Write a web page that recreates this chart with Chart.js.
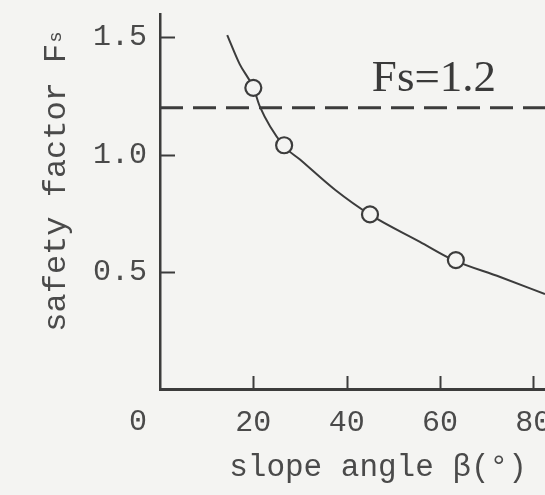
<!DOCTYPE html>
<html>
<head>
<meta charset="utf-8">
<script src="https://cdn.jsdelivr.net/npm/chart.js@4/dist/chart.umd.min.js"></script>
<style>
  html, body { margin: 0; padding: 0; background: #f4f4f2; }
  #wrap { width: 545px; height: 495px; }
</style>
</head>
<body>
<div id="wrap"><canvas id="c" width="545" height="495"></canvas></div>
<script>
// Safety factor against slope angle
const curveAngle = [14.4, 17.1, 20, 21.4, 26.4, 30, 37.5, 45, 55.7, 62.8, 72.9, 82.5];
const curveFs    = [1.51, 1.385, 1.286, 1.205, 1.04, 0.979, 0.85, 0.744, 0.628, 0.551, 0.478, 0.405];

const pointAngle = [20, 26.6, 45, 63.4];
const pointFs    = [1.285, 1.04, 0.745, 0.55];

const fsLimit = 1.2;
const xTicks = [0, 20, 40, 60, 80];
const yTicks = [0.5, 1.0, 1.5];

const INK = '#3c3c3c';
const TEXT = '#4a4a4a';
const MONO = '"Liberation Mono", "DejaVu Sans Mono", monospace';

const toXY = (xs, ys) => xs.map((x, i) => ({ x: x, y: ys[i] }));

// Inward tick marks, the corner origin label, the axis title with subscript and the limit label
const decorations = {
  id: 'decorations',
  afterDraw(chart) {
    const ctx = chart.ctx;
    const xs = chart.scales.x, ys = chart.scales.y;
    const area = chart.chartArea;
    ctx.save();
    ctx.strokeStyle = INK;
    ctx.lineWidth = 2;
    xTicks.filter(v => v > 0).forEach(v => {
      const px = Math.round(xs.getPixelForValue(v)) + 0.5;
      ctx.beginPath(); ctx.moveTo(px, area.bottom); ctx.lineTo(px, area.bottom - 13); ctx.stroke();
    });
    yTicks.forEach(v => {
      const py = Math.round(ys.getPixelForValue(v)) + 0.5;
      ctx.beginPath(); ctx.moveTo(area.left, py); ctx.lineTo(area.left + 15, py); ctx.stroke();
    });

    ctx.fillStyle = TEXT;
    // origin label
    ctx.font = '30px ' + MONO;
    ctx.textAlign = 'center';
    ctx.textBaseline = 'alphabetic';
    ctx.fillText('0', xs.getPixelForValue(0) - 22, 430);

    // x axis title
    ctx.font = '31px ' + MONO;
    ctx.fillText('slope angle \u03B2(\u00B0)', 378, 476);

    // y axis title, read bottom to top, with subscript s
    ctx.save();
    ctx.translate(55, 182);
    ctx.rotate(-Math.PI / 2);
    const main = 'safety factor F';
    ctx.font = '32px ' + MONO;
    const w1 = ctx.measureText(main).width;
    ctx.font = '19px ' + MONO;
    const w2 = ctx.measureText('s').width;
    const start = -(w1 + w2) / 2;
    ctx.textAlign = 'left';
    ctx.textBaseline = 'alphabetic';
    ctx.font = '32px ' + MONO;
    ctx.fillText(main, start, 10);
    ctx.font = '19px ' + MONO;
    ctx.fillText('s', start + w1 + 1, 6);
    ctx.restore();

    // limit line label
    ctx.font = '45px "Liberation Serif", "DejaVu Serif", serif';
    ctx.textAlign = 'left';
    ctx.textBaseline = 'alphabetic';
    ctx.fillStyle = '#3a3a3a';
    ctx.fillText('Fs=' + fsLimit.toFixed(1), xs.getPixelForValue(45.4), ys.getPixelForValue(fsLimit) - 17);
    ctx.restore();
  }
};

const bg = {
  id: 'bg',
  beforeDraw(chart) {
    const ctx = chart.ctx;
    ctx.save();
    ctx.fillStyle = '#f4f4f2';
    ctx.fillRect(0, 0, chart.width, chart.height);
    ctx.restore();
  }
};

new Chart(document.getElementById('c'), {
  type: 'line',
  data: {
    datasets: [
      {
        label: 'limit',
        data: [{ x: 0, y: fsLimit }, { x: 82.5, y: fsLimit }],
        borderColor: INK,
        borderWidth: 3,
        borderDash: [23, 10],
        pointRadius: 0,
        order: 3
      },
      {
        label: 'curve',
        data: toXY(curveAngle, curveFs),
        borderColor: INK,
        borderWidth: 2,
        cubicInterpolationMode: 'monotone',
        pointRadius: 0,
        order: 2
      },
      {
        label: 'computed',
        data: toXY(pointAngle, pointFs),
        showLine: false,
        pointRadius: 8,
        pointBorderWidth: 2.2,
        pointBorderColor: INK,
        pointBackgroundColor: '#f4f4f2',
        order: 1
      }
    ]
  },
  options: {
    responsive: false,
    animation: false,
    events: [],
    layout: { autoPadding: false, padding: { top: 14, right: 0, left: 0, bottom: 0 } },
    plugins: { legend: { display: false }, tooltip: { enabled: false } },
    scales: {
      x: {
        type: 'linear',
        min: 0,
        max: 82.5,
        grid: { display: false, drawTicks: false },
        border: { display: true, color: INK, width: 3 },
        ticks: {
          stepSize: 20,
          includeBounds: false,
          padding: 16,
          color: TEXT,
          font: { family: MONO, size: 30 },
          maxRotation: 0,
          autoSkip: false,
          callback: v => (xTicks.includes(v) && v > 0 ? String(v) : '')
        },
        afterFit: s => { s.height = 106; s.paddingLeft = 0; s.paddingRight = 0; }
      },
      y: {
        type: 'linear',
        min: 0,
        max: 1.6,
        grid: { display: false, drawTicks: false },
        border: { display: true, color: INK, width: 2.5 },
        ticks: {
          stepSize: 0.5,
          includeBounds: false,
          padding: 13,
          color: TEXT,
          font: { family: MONO, size: 30 },
          autoSkip: false,
          callback: v => (yTicks.some(t => Math.abs(t - v) < 1e-9) ? v.toFixed(1) : '')
        },
        afterFit: s => { s.width = 160; s.paddingTop = 0; s.paddingBottom = 0; }
      }
    }
  },
  plugins: [bg, decorations]
});
</script>
</body>
</html>
